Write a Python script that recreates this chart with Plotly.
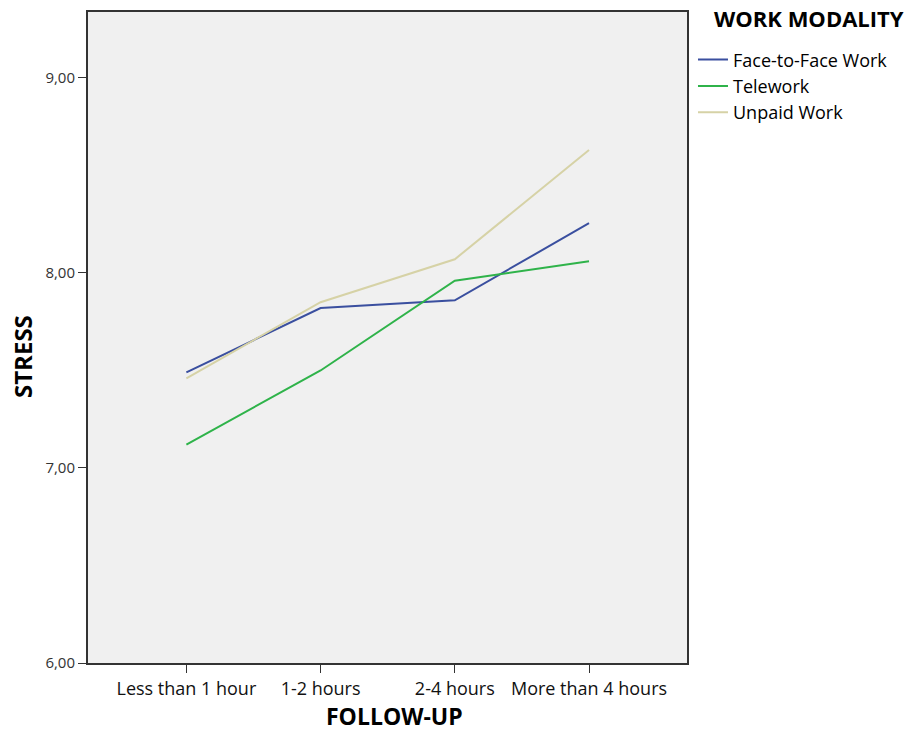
import plotly.graph_objects as go

categories = ["Less than 1 hour", "1-2 hours", "2-4 hours", "More than 4 hours"]
face_to_face = [7.49, 7.82, 7.86, 8.255]
telework = [7.12, 7.50, 7.96, 8.06]
unpaid = [7.46, 7.85, 8.07, 8.63]
series_names = ["Face-to-Face Work", "Telework", "Unpaid Work"]
colors = ["#3a4f9f", "#2fb34a", "#d6d2a6"]
y_ticks = [6, 7, 8, 9]

fig = go.Figure()
for name, vals, col in zip(series_names, [face_to_face, telework, unpaid], colors):
    fig.add_trace(go.Scatter(x=list(range(len(categories))), y=vals, mode="lines",
                             name=name, line=dict(color=col, width=2)))

fig.update_layout(
    width=911, height=733,
    margin=dict(l=88, r=224, t=12, b=70),
    paper_bgcolor="white", plot_bgcolor="#f0f0f0",
    separators=",.",
    font=dict(family="Open Sans", color="#111111"),
    showlegend=True,
    legend=dict(
        x=1.01, y=0.955, xanchor="left", yanchor="top",
        font=dict(size=18, color="#000"),
        bgcolor="rgba(0,0,0,0)", itemwidth=30, tracegroupgap=0,
    ),
    annotations=[
        dict(text="<b>WORK MODALITY</b>", xref="paper", yref="paper",
             x=(712 - 88) / 599, y=1 - (18 - 12) / 651, xanchor="left", yanchor="middle",
             showarrow=False, font=dict(size=22, color="#000")),
        dict(text="<b>STRESS</b>", xref="paper", yref="paper",
             x=(22 - 88) / 599, y=1 - (357 - 12) / 651, xanchor="center", yanchor="middle",
             textangle=-90, showarrow=False, font=dict(size=24, color="#000")),
        dict(text="<b>FOLLOW-UP</b>", xref="paper", yref="paper",
             x=(395 - 88) / 599, y=-(716 - 663) / 651, xanchor="center", yanchor="middle",
             showarrow=False, font=dict(size=23, color="#000")),
    ],
)
fig.update_xaxes(
    range=[-0.733, 3.73], tickmode="array", tickvals=list(range(len(categories))),
    ticktext=categories, ticks="outside", ticklen=8, tickcolor="#333", tickwidth=1,
    showline=True, linecolor="#333", linewidth=2, mirror=True, showgrid=False, zeroline=False,
    tickfont=dict(size=18, color="#111"), automargin=False,
)
fig.update_yaxes(
    range=[6, 9.338], tickvals=y_ticks, tickformat=".2f", ticks="outside", ticklen=8,
    tickcolor="#333", tickwidth=1,
    showline=True, linecolor="#333", linewidth=2, mirror=True, showgrid=False, zeroline=False,
    tickfont=dict(size=15, color="#333"), automargin=False,
)
fig.write_html("out.html", config={"displayModeBar": False},
               post_script="document.body.style.margin='0';")
